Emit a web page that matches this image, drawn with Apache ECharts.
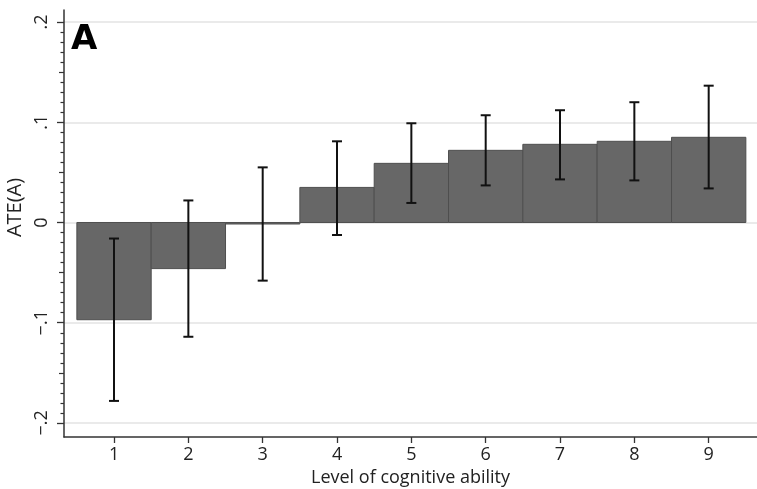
<!DOCTYPE html>
<html>
<head>
<meta charset="utf-8">
<script src="https://cdn.jsdelivr.net/npm/echarts@6/dist/echarts.min.js"></script>
<style>
html,body{margin:0;padding:0;background:#fff;}
#chart{width:757px;height:489px;}
</style>
</head>
<body>
<div id="chart"></div>
<script>
// ---- data ----
const categories = [1, 2, 3, 4, 5, 6, 7, 8, 9];
const ateValues = [-0.097, -0.046, -0.0015, 0.035, 0.059, 0.072, 0.078, 0.081, 0.085];
const ciLow  = [-0.178, -0.114, -0.058, -0.0125, 0.0195, 0.037, 0.043, 0.042, 0.034];
const ciHigh = [-0.016, 0.022, 0.055, 0.081, 0.099, 0.107, 0.112, 0.120, 0.1365];
const yMajorTicks = [-0.2, -0.1, 0, 0.1, 0.2];
const yMajorLabels = {'-0.2': '\u2212.2', '-0.1': '\u2212.1', '0': '0', '0.1': '.1', '0.2': '.2'};
const yMediumTicks = [-0.15, -0.05, 0.05, 0.15];
const yMinorTicks = [-0.19, -0.18, -0.17, -0.16, -0.14, -0.13, -0.12, -0.11,
  -0.09, -0.08, -0.07, -0.06, -0.04, -0.03, -0.02, -0.01,
  0.01, 0.02, 0.03, 0.04, 0.06, 0.07, 0.08, 0.09,
  0.11, 0.12, 0.13, 0.14, 0.16, 0.17, 0.18, 0.19];
const xTitle = 'Level of cognitive ability';
const yTitle = 'ATE(A)';
const panelLabel = 'A';

// ---- chart ----
const FONT = 'Open Sans';
const FS = 18;
const Y_MIN = -0.214, Y_MAX = 0.212;
const chart = echarts.init(document.getElementById('chart'), null, {renderer: 'canvas'});

function overlayY(values, len) {
  return {
    type: 'value', min: Y_MIN, max: Y_MAX, position: 'left',
    axisLine: {show: false},
    axisTick: {show: true, length: len, customValues: values, lineStyle: {color: '#333', width: 1.2}},
    axisLabel: {show: false},
    splitLine: {show: false}
  };
}

const option = {
  backgroundColor: '#fff',
  animation: false,
  title: {
    text: panelLabel, left: 71, top: 23, padding: 0,
    textStyle: {fontFamily: 'DejaVu Sans', fontWeight: 'bold', fontSize: 34, color: '#000'}
  },
  grid: {left: 64, right: 0, top: 10, bottom: 52, containLabel: false, outerBoundsMode: 'none'},
  xAxis: {
    type: 'value', min: 0.327, max: 9.65,
    name: xTitle, nameLocation: 'middle', nameGap: 29,
    nameTextStyle: {fontFamily: FONT, fontSize: FS, color: '#222'},
    axisLine: {show: true, onZero: false, lineStyle: {color: '#333', width: 1.5}},
    axisTick: {show: true, length: 6, customValues: categories, lineStyle: {color: '#333', width: 1.3}},
    axisLabel: {customValues: categories, margin: 9, fontFamily: FONT, fontSize: FS, color: '#222'},
    splitLine: {show: false}
  },
  yAxis: [
    {
      type: 'value', min: Y_MIN, max: Y_MAX, position: 'left',
      name: yTitle, nameLocation: 'middle', nameGap: 36, nameRotate: 90,
      nameTextStyle: {fontFamily: FONT, fontSize: 20, color: '#222', padding: [0, 0, 0, 32]},
      axisLine: {show: true, onZero: false, lineStyle: {color: '#333', width: 1.5}},
      axisTick: {show: true, length: 7, customValues: yMajorTicks, lineStyle: {color: '#333', width: 1.3}},
      axisLabel: {
        customValues: yMajorTicks, rotate: 90, margin: 13,
        fontFamily: FONT, fontSize: FS, color: '#222',
        formatter: v => yMajorLabels[String(Math.round(v * 10) / 10)] ?? String(v)
      },
      splitLine: {show: true, lineStyle: {color: '#e3e3e3', width: 1.5}}
    },
    overlayY(yMediumTicks, 5),
    overlayY(yMinorTicks, 3.5)
  ],
  series: [
    {
      type: 'custom', name: 'ATE', z: 2,
      data: categories.map((c, i) => [c, ateValues[i]]),
      renderItem: function (params, api) {
        const x = api.value(0), v = api.value(1);
        const p1 = api.coord([x - 0.5, v]);
        const p0 = api.coord([x + 0.5, 0]);
        const top = Math.min(p1[1], p0[1]);
        const h = Math.max(Math.abs(p0[1] - p1[1]), 1);
        return {
          type: 'rect',
          shape: {x: p1[0], y: top, width: p0[0] - p1[0], height: h},
          style: {fill: '#676767', stroke: '#4f4f4f', lineWidth: 1}
        };
      }
    },
    {
      type: 'custom', name: 'CI', z: 3,
      data: categories.map((c, i) => [c, ciLow[i], ciHigh[i]]),
      renderItem: function (params, api) {
        const x = api.value(0);
        const lo = api.coord([x, api.value(1)]);
        const hi = api.coord([x, api.value(2)]);
        const cap = 5;
        const st = {stroke: '#111', lineWidth: 2};
        return {
          type: 'group',
          children: [
            {type: 'line', shape: {x1: lo[0], y1: lo[1], x2: hi[0], y2: hi[1]}, style: st},
            {type: 'line', shape: {x1: lo[0] - cap, y1: lo[1], x2: lo[0] + cap, y2: lo[1]}, style: st},
            {type: 'line', shape: {x1: hi[0] - cap, y1: hi[1], x2: hi[0] + cap, y2: hi[1]}, style: st}
          ]
        };
      }
    }
  ]
};
chart.setOption(option);
</script>
</body>
</html>
